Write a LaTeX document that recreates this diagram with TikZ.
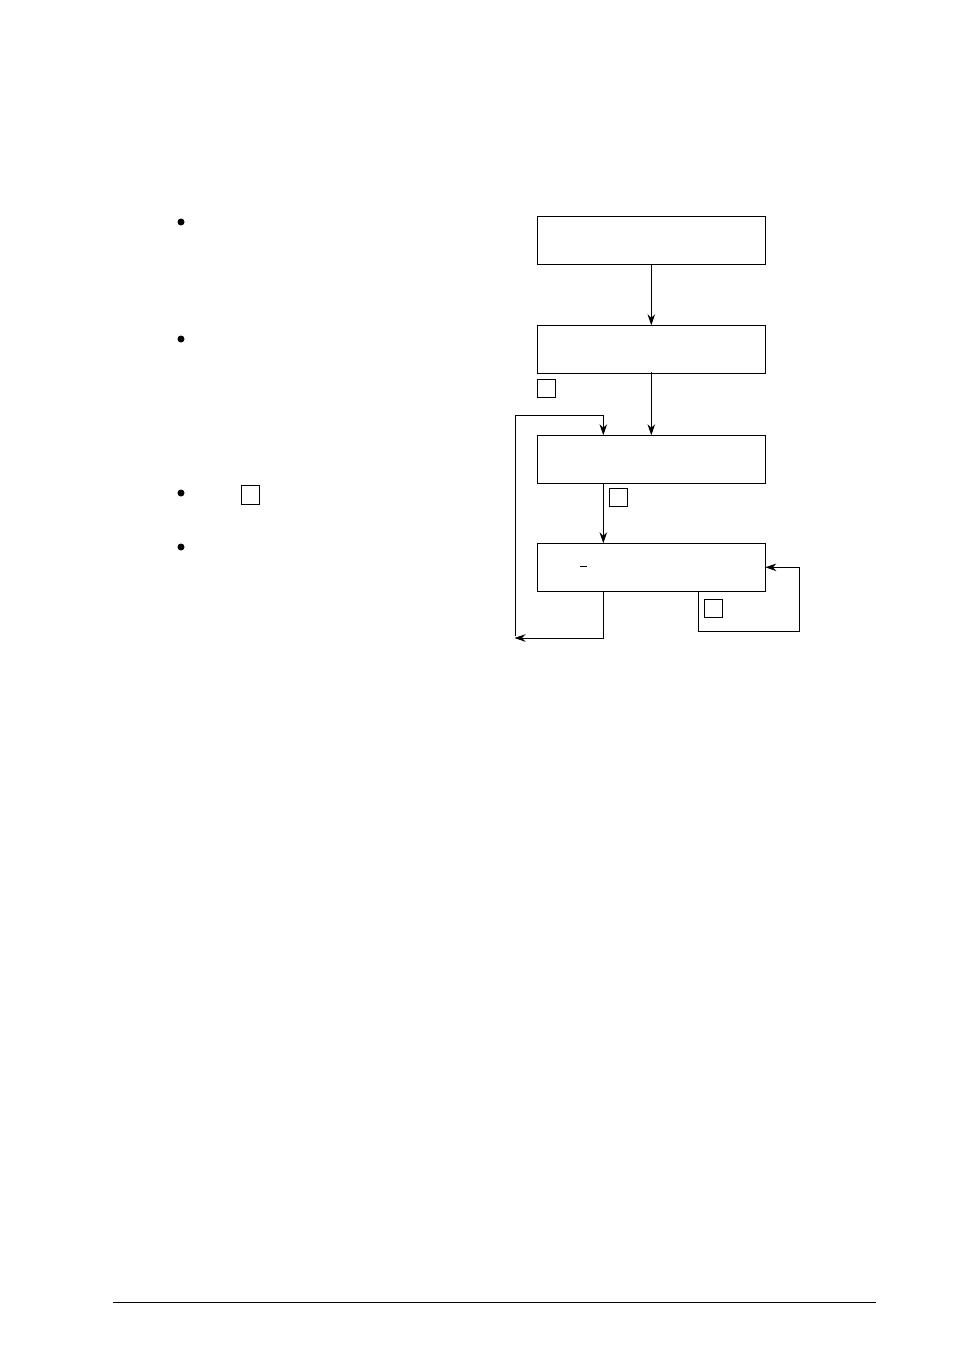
\documentclass[tikz,border=0pt]{standalone}
\usetikzlibrary{arrows.meta}
\begin{document}
\begin{tikzpicture}[x=1pt,y=-1pt,
  line width=1pt,
  box/.style={draw,rectangle,minimum width=228pt,minimum height=48.5pt,inner sep=0pt,outer sep=0pt,anchor=north west},
  sq/.style={draw,rectangle,minimum size=18.5pt,inner sep=0pt,outer sep=0pt,anchor=north west},
  arr/.style={-{Stealth[length=11pt,width=7.5pt,inset=3.5pt]}},
  dot/.style={fill,circle,minimum size=7pt,inner sep=0pt}]
\useasboundingbox (0,0) rectangle (954,1351);
% boxes
\node[box] (b1) at (537.3,216.3) {};
\node[box] (b2) at (537.3,325.3) {};
\node[box] (b3) at (537.3,435.3) {};
\node[box] (b4) at (537.3,543.3) {};
% small squares
\node[sq] (s1) at (537.3,379.3) {};
\node[sq] (s2) at (609.3,488.3) {};
\node[sq] (s3) at (704.3,599.3) {};
\node[sq] (s4) at (241.3,485.5) {};
% bullets
\node[dot] (d1) at (181,222) {};
\node[dot] (d2) at (181,339) {};
\node[dot] (d3) at (181,493) {};
\node[dot] (d4) at (181,547) {};
% arrows
\draw[arr] (b1.south) -- (b2.north);
\draw[arr] ([yshift=2pt]b2.south) -- (b3.north);
\coordinate (c3a) at (603.3,484.3);
\coordinate (c4a) at (603.3,543.3);
\draw[arr] (c3a) -- (c4a);
% loop from b4 back to b3
\coordinate (l1) at (603.3,591.3);
\coordinate (l2) at (603.3,638);
\coordinate (l3) at (514.5,638);
\coordinate (l4) at (515.5,636);
\coordinate (l5) at (515.5,415.5);
\coordinate (l6) at (603.3,415.5);
\coordinate (l7) at (603.3,435.3);
\draw[arr] (l1) -- (l2) -- (l3);
\draw[arr] (l4) -- (l5) -- (l6) -- (l7);
% self loop on b4
\coordinate (m1) at (698.3,591.3);
\coordinate (m2) at (698.3,631);
\coordinate (m3) at (799.3,631);
\coordinate (m4) at (799.3,567.3);
\coordinate (m5) at (765.3,567.3);
\draw[arr] (m1) -- (m2) -- (m3) -- (m4) -- (m5);
% small dash in b4
\draw[line width=0.8pt] (580,566) -- (587,566);
% footer rule
\draw[line width=1pt] (113,1302.5) -- (876,1302.5);
\end{tikzpicture}
\end{document}
